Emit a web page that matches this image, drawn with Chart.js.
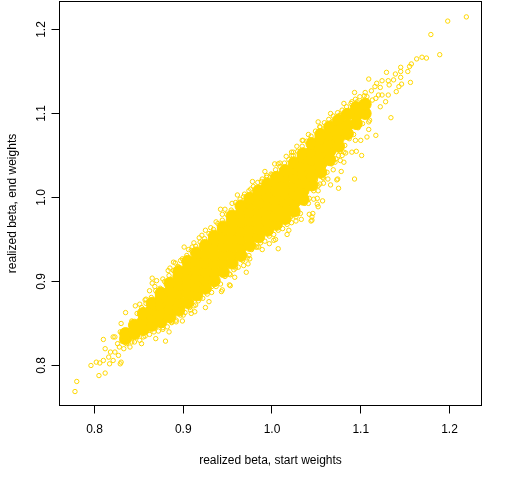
<!DOCTYPE html>
<html><head><meta charset="utf-8">
<script src="https://cdn.jsdelivr.net/npm/chart.js@4.4.1/dist/chart.umd.min.js"></script>
<style>html,body{margin:0;padding:0;background:#fff}canvas{display:block}</style>
</head><body>
<canvas id="c" width="512" height="480"></canvas>
<script>
const xTicks=[0.8,0.9,1.0,1.1,1.2];
const yTicks=[0.8,0.9,1.0,1.1,1.2];
const xTitle='realized beta, start weights';
const yTitle='realized beta, end weights';
const GOLD='#FFD700';
const FONT='"Liberation Sans", Arial, Helvetica, sans-serif';

// dense core of the cloud (thousands of overlapping points read as a solid band)
const corePoints=[
[0.835,0.832],[0.835,0.838],
[0.845,0.838],[0.845,0.848],
[0.855,0.843],[0.855,0.853],[0.855,0.862],
[0.865,0.848],[0.865,0.858],[0.865,0.867],[0.865,0.874],
[0.875,0.852],[0.875,0.862],[0.875,0.872],[0.875,0.881],[0.875,0.886],
[0.885,0.858],[0.885,0.868],[0.885,0.878],[0.885,0.888],[0.885,0.898],
[0.895,0.866],[0.895,0.876],[0.895,0.886],[0.895,0.896],[0.895,0.906],[0.895,0.912],
[0.905,0.875],[0.905,0.885],[0.905,0.895],[0.905,0.905],[0.905,0.915],[0.905,0.924],
[0.915,0.884],[0.915,0.894],[0.915,0.904],[0.915,0.914],[0.915,0.924],[0.915,0.934],
[0.925,0.892],[0.925,0.902],[0.925,0.912],[0.925,0.922],[0.925,0.932],[0.925,0.943],
[0.935,0.901],[0.935,0.911],[0.935,0.921],[0.935,0.931],[0.935,0.941],[0.935,0.951],[0.935,0.954],
[0.945,0.912],[0.945,0.922],[0.945,0.932],[0.945,0.942],[0.945,0.952],[0.945,0.962],[0.945,0.965],
[0.955,0.922],[0.955,0.932],[0.955,0.942],[0.955,0.952],[0.955,0.962],[0.955,0.972],[0.955,0.978],
[0.965,0.931],[0.965,0.941],[0.965,0.951],[0.965,0.961],[0.965,0.971],[0.965,0.981],[0.965,0.990],
[0.975,0.943],[0.975,0.953],[0.975,0.963],[0.975,0.973],[0.975,0.983],[0.975,0.993],[0.975,0.999],
[0.985,0.953],[0.985,0.963],[0.985,0.973],[0.985,0.983],[0.985,0.993],[0.985,1.003],[0.985,1.008],
[0.995,0.961],[0.995,0.971],[0.995,0.981],[0.995,0.991],[0.995,1.001],[0.995,1.011],[0.995,1.016],
[1.005,0.968],[1.005,0.978],[1.005,0.988],[1.005,0.998],[1.005,1.008],[1.005,1.018],[1.005,1.024],
[1.015,0.975],[1.015,0.985],[1.015,0.995],[1.015,1.005],[1.015,1.015],[1.015,1.025],[1.015,1.032],
[1.025,0.984],[1.025,0.994],[1.025,1.004],[1.025,1.014],[1.025,1.024],[1.025,1.034],[1.025,1.041],
[1.035,0.998],[1.035,1.008],[1.035,1.018],[1.035,1.028],[1.035,1.038],[1.035,1.048],[1.035,1.052],
[1.045,1.015],[1.045,1.025],[1.045,1.035],[1.045,1.045],[1.045,1.055],[1.045,1.064],
[1.055,1.030],[1.055,1.040],[1.055,1.050],[1.055,1.060],[1.055,1.070],[1.055,1.075],
[1.065,1.045],[1.065,1.055],[1.065,1.065],[1.065,1.075],[1.065,1.084],
[1.075,1.061],[1.075,1.071],[1.075,1.081],[1.075,1.092],
[1.085,1.076],[1.085,1.086],[1.085,1.099],
[1.095,1.088],[1.095,1.098],[1.095,1.107],
[1.105,1.100],[1.105,1.111]
];

// points along the upper-left edge of the band
const upperEdge=[
[0.842,0.853],[0.848,0.862],[0.853,0.869],[0.858,0.874],[0.864,0.881],[0.869,0.889],[0.874,0.892],[0.879,0.900],
[0.884,0.907],[0.889,0.913],[0.894,0.918],[0.899,0.927],[0.904,0.931],[0.909,0.937],[0.914,0.942],[0.919,0.947],
[0.924,0.951],[0.929,0.957],[0.934,0.962],[0.939,0.969],[0.944,0.973],[0.949,0.980],[0.954,0.985],[0.959,0.994],
[0.964,0.998],[0.969,1.004],[0.974,1.008],[0.979,1.013],[0.984,1.018],[0.989,1.022],[0.994,1.026],[0.999,1.028],
[1.004,1.033],[1.009,1.037],[1.014,1.041],[1.019,1.045],[1.024,1.050],[1.029,1.055],[1.034,1.061],[1.039,1.067],
[1.044,1.073],[1.049,1.079],[1.054,1.084],[1.059,1.089],[1.064,1.093],[1.069,1.097],[1.074,1.101],[1.079,1.104],
[1.084,1.108],[1.089,1.112],[1.094,1.117],[1.099,1.120],[1.104,1.121],
[0.851,0.873],[0.862,0.889],[0.877,0.903],[0.891,0.922],[0.906,0.938],[0.921,0.955],[0.931,0.964],[0.947,0.986],
[0.961,1.003],[0.978,1.019],[0.992,1.031],[1.003,1.040],[1.016,1.049],[1.028,1.061],[1.041,1.075],[1.052,1.090],
[1.066,1.100],[1.081,1.112],[1.093,1.125]
];

// points along the lower-right edge of the band
const lowerEdge=[
[0.845,0.828],[0.851,0.830],[0.857,0.835],[0.862,0.837],[0.867,0.840],[0.872,0.841],[0.877,0.845],[0.882,0.846],
[0.887,0.851],[0.892,0.854],[0.897,0.860],[0.902,0.863],[0.907,0.869],[0.912,0.871],[0.917,0.877],[0.922,0.880],
[0.927,0.885],[0.932,0.887],[0.937,0.894],[0.942,0.897],[0.947,0.906],[0.952,0.909],[0.957,0.914],[0.962,0.917],
[0.967,0.925],[0.972,0.928],[0.977,0.938],[0.982,0.941],[0.987,0.946],[0.992,0.948],[0.997,0.954],[1.002,0.956],
[1.007,0.961],[1.012,0.963],[1.017,0.968],[1.022,0.970],[1.027,0.977],[1.032,0.981],[1.037,0.993],[1.042,0.999],
[1.047,1.008],[1.052,1.014],[1.057,1.024],[1.062,1.030],[1.067,1.040],[1.072,1.046],[1.077,1.055],[1.082,1.062],
[1.087,1.070],[1.092,1.075],[1.097,1.083],[1.102,1.088],[1.107,1.097],
[0.853,0.826],[0.869,0.832],[0.884,0.840],[0.899,0.853],[0.913,0.864],[0.929,0.876],[0.944,0.890],[0.958,0.905],
[0.973,0.921],[0.989,0.938],[1.004,0.950],[1.019,0.961],[1.033,0.974],[1.047,0.998],[1.063,1.022],[1.079,1.050],
[1.094,1.068],[1.109,1.090]
];

// scattered points, upper-right tail
const upperTail=[
[1.219,1.215],[1.198,1.210],[1.179,1.194],[1.189,1.170],[1.169,1.167],[1.163,1.165],[1.174,1.166],[1.157,1.159],
[1.155,1.156],[1.145,1.155],[1.153,1.150],[1.145,1.150],[1.129,1.149],[1.139,1.147],[1.145,1.143],[1.109,1.141],
[1.124,1.139],[1.131,1.139],[1.137,1.140],[1.156,1.137],[1.146,1.135],[1.118,1.136],[1.132,1.134],[1.143,1.132],
[1.122,1.131],[1.116,1.132],[1.140,1.126],[1.124,1.122],[1.131,1.122],[1.120,1.122],[1.128,1.114],[1.107,1.120],
[1.113,1.116],[1.134,1.095],[1.117,1.074],[1.109,1.081],[1.099,1.104],[1.096,1.114],[1.090,1.114],[1.110,1.092],
[1.122,1.108],[1.077,1.098],[1.062,1.082],[1.054,1.084],[1.107,1.072],[1.100,1.068],[1.076,1.098],[1.069,1.091],
[1.054,1.079],[1.035,1.068],[1.024,1.054],[1.075,1.060],[1.081,1.054],[1.090,1.054],[1.101,1.050],[1.095,1.055],
[1.077,1.044],[1.069,1.033],[1.078,1.031],[1.093,1.022],[1.074,1.022],[1.066,1.015],[1.075,1.011],[1.054,1.016],
[1.049,1.021],[1.058,1.023],[1.083,1.053],[1.112,1.127],[1.105,1.125],[1.117,1.118]
];

// scattered points, right of the band
const rightSide=[
[1.057,0.996],[1.052,1.008],[1.052,0.989],[1.046,0.981],[1.042,0.980],[1.044,0.972],[1.045,0.977],[1.029,0.981],
[1.027,0.972],[1.021,0.977],[1.017,0.956],[1.007,0.939],[1.041,0.993],[1.036,0.995],[1.051,0.992],[1.058,1.017],
[1.045,0.973],[0.997,0.945],[0.985,0.941],[0.971,0.911],[0.959,0.916],[0.953,0.908],[1.073,1.021],[1.081,1.042],
[1.071,1.042],[1.075,1.050],[1.002,0.949],[0.974,0.931],[0.983,0.941],[0.975,0.927],[0.968,0.919],[0.953,0.895],
[0.880,0.829],[0.887,0.852],[0.892,0.852],[0.900,0.860],[0.908,0.866],[0.914,0.872],[0.925,0.869],[0.919,0.880],
[0.932,0.894],[0.943,0.888],[0.952,0.896],[0.949,0.908],[0.954,0.919],[0.861,0.842],[0.855,0.834],[0.877,0.843],
[0.909,0.862],[1.051,0.999]
];

// scattered points, left of the band
const leftSide=[
[0.942,0.986],[0.955,0.993],[0.968,1.001],[0.976,1.010],[0.988,1.019],[1.000,1.027],[1.009,1.041],[1.022,1.050],
[1.022,1.054],[1.034,1.068],[1.043,1.069],[0.937,0.971],[0.925,0.961],[0.944,0.980],[0.901,0.941],[0.910,0.941],
[0.889,0.923],[0.885,0.916],[0.994,1.024],[1.007,1.040],[0.897,0.925],[0.865,0.898],[0.870,0.901],[0.883,0.913],
[0.868,0.894],[0.857,0.878],[0.846,0.871],[0.835,0.863],[0.830,0.850],[0.823,0.834],[0.865,0.904],[0.858,0.879],
[0.912,0.946],[0.918,0.952]
];

// scattered points, lower-left tail
const lowerTail=[
[0.810,0.831],[0.812,0.820],[0.816,0.810],[0.810,0.806],[0.821,0.806],[0.827,0.812],[0.829,0.802],[0.823,0.816],
[0.818,0.816],[0.833,0.820],[0.778,0.769],[0.780,0.781],[0.805,0.788],[0.812,0.791],[0.796,0.800],[0.802,0.804],
[0.806,0.803],[0.817,0.802],[0.830,0.804],[0.821,0.834],[0.829,0.840],[0.826,0.826],[0.831,0.829],[0.836,0.826],
[0.838,0.835],[0.833,0.838],[0.840,0.822],[0.842,0.828],[0.828,0.822]
];

const toXY=a=>a.map(p=>({x:p[0],y:p[1]}));
const ringPoints=[].concat(upperEdge,lowerEdge,upperTail,rightSide,leftSide,lowerTail);

const boxPlugin={id:'box',afterDatasetsDraw(chart){
  const {ctx,chartArea:a}=chart;
  ctx.save();ctx.strokeStyle='#000';ctx.lineWidth=1;
  ctx.strokeRect(a.left,a.top,a.right-a.left,a.bottom-a.top);
  ctx.restore();
}};

const tickCommon={color:'#000',font:{family:FONT,size:12},autoSkip:false,callback:v=>Number(v).toFixed(1)};
const gridCommon={display:true,drawOnChartArea:false,drawTicks:true,tickLength:8,tickColor:'#000',tickWidth:1};

new Chart(document.getElementById('c'),{
  type:'scatter',
  data:{datasets:[
    {data:toXY(ringPoints),pointRadius:2.2,pointBorderWidth:1,pointBorderColor:GOLD,pointBackgroundColor:'rgba(0,0,0,0)',pointHoverRadius:2.2},
    {data:toXY(corePoints),pointRadius:6,pointBorderWidth:1,pointBorderColor:GOLD,pointBackgroundColor:GOLD,pointHoverRadius:6}
  ]},
  options:{
    responsive:false,animation:false,events:[],devicePixelRatio:1,
    layout:{autoPadding:false,padding:{left:0,top:1.5,right:30.5,bottom:0}},
    plugins:{legend:{display:false},tooltip:{enabled:false}},
    scales:{
      x:{type:'linear',min:0.76056,max:1.23606,
        afterBuildTicks:a=>{a.ticks=xTicks.map(v=>({value:v}));},
        afterFit:s=>{s.height=74.5;s.paddingLeft=0;s.paddingRight=0;},
        grid:gridCommon,border:{display:false},
        ticks:Object.assign({},tickCommon,{padding:9,maxRotation:0,minRotation:0}),
        title:{display:true,text:xTitle,color:'#000',font:{family:FONT,size:12},padding:{top:0,bottom:12}}
      },
      y:{type:'linear',min:0.75238,max:1.23333,
        afterBuildTicks:a=>{a.ticks=yTicks.map(v=>({value:v}));},
        afterFit:s=>{s.width=59.5;s.paddingTop=0;s.paddingBottom=0;},
        grid:gridCommon,border:{display:false},
        ticks:Object.assign({},tickCommon,{padding:1,minRotation:90,maxRotation:90,crossAlign:'center'}),
        title:{display:true,text:yTitle,color:'#000',font:{family:FONT,size:12},padding:{top:5,bottom:0}}
      }
    }
  },
  plugins:[boxPlugin]
});
</script>
</body></html>
